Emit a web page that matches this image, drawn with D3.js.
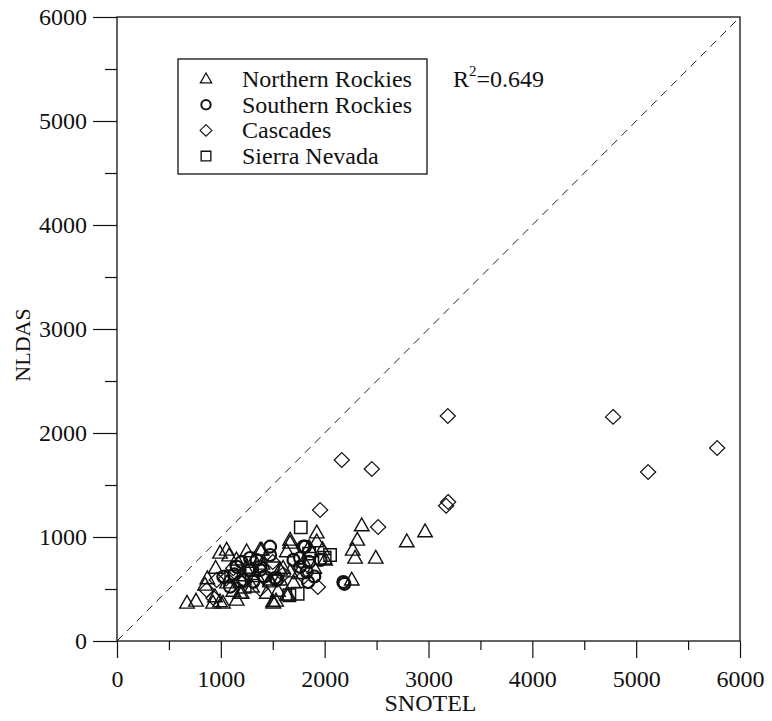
<!DOCTYPE html>
<html>
<head>
<meta charset="utf-8">
<script src="https://cdn.jsdelivr.net/npm/d3@7"></script>
<style>
  body { margin: 0; background: #fff; }
  text { font-family: "Liberation Serif", "Times New Roman", serif; fill: #111; }
</style>
</head>
<body>
<svg id="chart" width="772" height="721"></svg>
<script>
// Peak SWE comparison, SNOTEL vs NLDAS (mm), grouped by mountain region
const northernRockies = [
  [674,365],[761,385],[925,365],[1021,365],[1532,385],[992,378],[944,426],[1153,394],
  [1185,461],[1442,461],[1503,378],[1635,442],[848,538],[870,600],[992,846],[1056,875],
  [1249,859],[1378,875],[1394,875],[1667,942],[1474,587],[1570,587],[1060,560],[1120,480],
  [1300,520],[1350,620],[1600,700],[1667,971],[1635,859],[1570,683],[1667,666],[1474,570],
  [1506,365],[1650,442],[1201,461],[1750,650],[1800,760],[1850,900],[1924,1041],[1924,955],
  [1870,860],[2005,780],[2261,587],[2270,875],[2293,798],[2314,971],[2357,1109],[2492,798],
  [2791,955],[2967,1051],[1240,700],[1400,740],[1150,780],[950,700],[1700,560],[1550,480],
  [1320,780],[1080,820],[1900,700],[1980,880]
];
const southernRockies = [
  [1089,522],[1153,714],[1217,587],[1281,683],[1345,779],[1378,683],[1474,907],[1538,587],
  [1763,714],[1811,907],[1024,618],[1281,798],[1474,827],[1378,714],[1265,683],[1795,907],
  [1763,798],[1827,666],[1522,605],[1313,570],[1185,570],[1840,567],[1850,760],[2180,567],
  [2190,550],[1900,620],[1130,640],[1200,760],[1420,620],[1700,780],[1960,780]
];
const cascades = [
  [3186,2163],[4778,2155],[5780,1856],[5115,1625],[2165,1740],[2454,1654],[3189,1337],
  [3170,1300],[1956,1260],[2515,1096],[1934,519],[864,490],[960,587],[929,413],[1230,580],
  [1050,600],[1380,500],[1600,640],[1120,700],[1800,620],[1500,760]
];
const sierraNevada = [
  [1770,1093],[2052,827],[1740,455],[1660,440],[1100,620],[1300,650],[1500,700],
  [1850,840],[1230,520],[2000,800]
];

const regionNames = ["Northern Rockies", "Southern Rockies", "Cascades", "Sierra Nevada"];
const majorTicks = [0, 1000, 2000, 3000, 4000, 5000, 6000];
const minorTicks = [500, 1500, 2500, 3500, 4500, 5500];
const rSquared = "0.649";
const xTitle = "SNOTEL";
const yTitle = "NLDAS";

const svg = d3.select("#chart");
const fontSize = 24;

const x = d3.scaleLinear().domain([0, 6000]).range([117, 740]);
const y = d3.scaleLinear().domain([0, 6000]).range([641, 17]);

// marker outlines, centred on the origin
const shapes = {
  triangle: s => { const w = 14.5 * s, h = 12.8 * s; return `M0,${-h * 0.6}L${w / 2},${h * 0.4}L${-w / 2},${h * 0.4}Z`; },
  circle:   s => { const r = 6 * s; return `M${r},0A${r},${r} 0 1,1 ${-r},0A${r},${r} 0 1,1 ${r},0Z`; },
  diamond:  s => { const w = 7.6 * s, h = 7.4 * s; return `M0,${-h}L${w},0L0,${h}L${-w},0Z`; },
  square:   s => { const a = 6.2 * s; return `M${-a},${-a}H${a}V${a}H${-a}Z`; }
};
const strokeW = { triangle: 1.4, circle: 2.2, diamond: 1.2, square: 1.5 };

const series = [
  { name: regionNames[0], data: northernRockies, shape: "triangle" },
  { name: regionNames[1], data: southernRockies, shape: "circle" },
  { name: regionNames[2], data: cascades, shape: "diamond" },
  { name: regionNames[3], data: sierraNevada, shape: "square" }
];

// 1:1 reference line
svg.append("line")
  .attr("x1", x(0)).attr("y1", y(0)).attr("x2", x(6000)).attr("y2", y(6000))
  .attr("stroke", "#222").attr("stroke-width", 1).attr("stroke-dasharray", "8,6");

// axes
const xAxis = svg.append("g").attr("transform", `translate(0,${y(0)})`)
  .call(d3.axisBottom(x).tickValues(majorTicks).tickSize(17).tickSizeOuter(0).tickFormat(d3.format("d")));
svg.append("g").attr("transform", `translate(0,${y(0)})`)
  .call(d3.axisBottom(x).tickValues(minorTicks).tickSize(9).tickSizeOuter(0).tickFormat(""));
const yAxis = svg.append("g").attr("transform", `translate(${x(0)},0)`)
  .call(d3.axisLeft(y).tickValues(majorTicks).tickSize(24).tickSizeOuter(0).tickFormat(d3.format("d")));
svg.append("g").attr("transform", `translate(${x(0)},0)`)
  .call(d3.axisLeft(y).tickValues(minorTicks).tickSize(12).tickSizeOuter(0).tickFormat(""));

svg.selectAll(".domain").remove();
svg.selectAll(".tick line").attr("stroke", "#111").attr("stroke-width", 1.2);
svg.selectAll(".tick text").attr("font-size", fontSize).attr("font-family", null).style("fill", "#111");

xAxis.selectAll(".tick text").attr("y", 46).attr("dy", 0);
yAxis.selectAll(".tick text").attr("x", -30).attr("dy", "0.33em");

// plot frame
svg.append("rect")
  .attr("x", x(0)).attr("y", y(6000))
  .attr("width", x(6000) - x(0)).attr("height", y(0) - y(6000))
  .attr("fill", "none").attr("stroke", "#111").attr("stroke-width", 1.3);

// axis titles
svg.append("text")
  .attr("transform", `translate(${(x(0) + x(6000)) / 2 + 2},711)`)
  .attr("text-anchor", "middle").attr("font-size", fontSize).text(xTitle);
svg.append("text")
  .attr("transform", `translate(30,345) rotate(-90)`)
  .attr("text-anchor", "middle").attr("font-size", 22).text(yTitle);

// points
series.forEach(s => {
  svg.append("g").selectAll("path").data(s.data).join("path")
    .attr("transform", d => `translate(${x(d[0])},${y(d[1])})`)
    .attr("d", shapes[s.shape](1))
    .attr("fill", "none").attr("stroke", "#111")
    .attr("stroke-width", strokeW[s.shape]);
});

// legend
const legend = svg.append("g");
legend.append("rect").attr("x", 178).attr("y", 59).attr("width", 249).attr("height", 115)
  .attr("fill", "#fff").attr("stroke", "#111").attr("stroke-width", 1.3);
series.forEach((s, i) => {
  const cy = 79 + i * 25.7;
  legend.append("path").attr("transform", `translate(206,${cy})`)
    .attr("d", shapes[s.shape](0.78)).attr("fill", "none").attr("stroke", "#111")
    .attr("stroke-width", strokeW[s.shape] * 0.9);
  legend.append("text").attr("x", 242).attr("y", cy + 8)
    .attr("font-size", fontSize).text(s.name);
});

// coefficient of determination
const r2 = svg.append("text").attr("x", 453).attr("y", 87).attr("font-size", fontSize);
r2.append("tspan").text("R");
r2.append("tspan").attr("font-size", 15).attr("dy", -11).text("2");
r2.append("tspan").attr("dy", 11).text("=" + rSquared);
</script>
</body>
</html>
